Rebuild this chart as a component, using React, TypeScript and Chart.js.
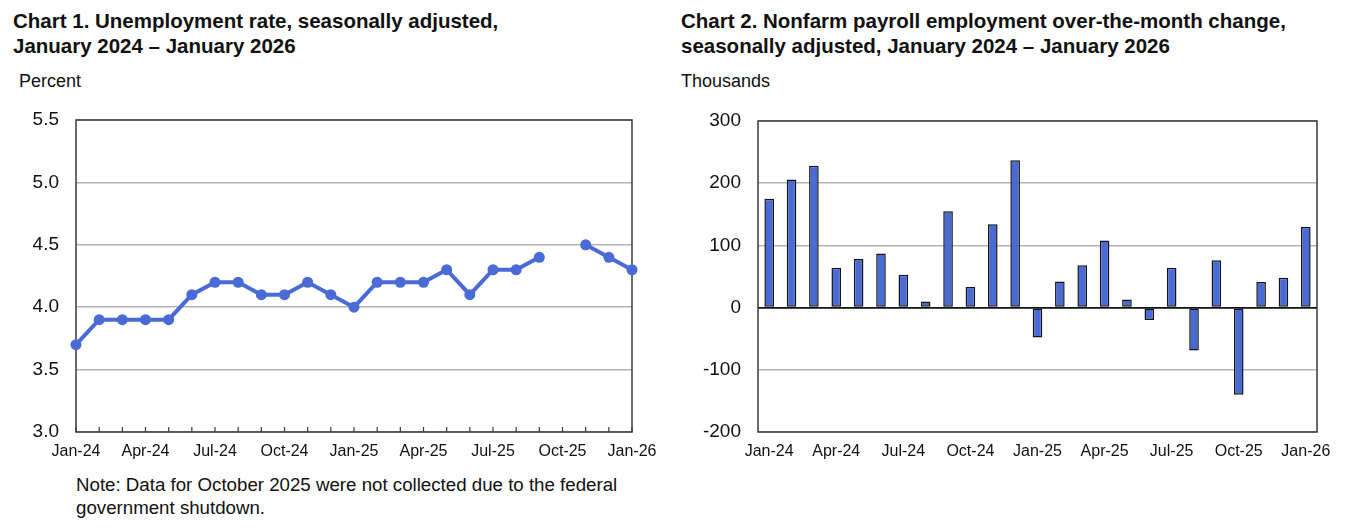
import React, { useEffect, useRef } from "react";
import { Chart, registerables } from "chart.js";

Chart.register(...registerables);

const months = [
  "Jan-24", "Feb-24", "Mar-24", "Apr-24", "May-24", "Jun-24", "Jul-24", "Aug-24", "Sep-24", "Oct-24", "Nov-24", "Dec-24",
  "Jan-25", "Feb-25", "Mar-25", "Apr-25", "May-25", "Jun-25", "Jul-25", "Aug-25", "Sep-25", "Oct-25", "Nov-25", "Dec-25",
  "Jan-26",
];

const unemploymentRate: (number | null)[] = [
  3.7, 3.9, 3.9, 3.9, 3.9, 4.1, 4.2, 4.2, 4.1, 4.1, 4.2, 4.1,
  4.0, 4.2, 4.2, 4.2, 4.3, 4.1, 4.3, 4.3, 4.4, null, 4.5, 4.4,
  4.3,
];

const payrollChange = [
  175, 206, 228, 64, 78, 87, 53, 10, 155, 33, 134, 237,
  -48, 42, 68, 108, 13, -20, 64, -69, 76, -140, 41, 48,
  130,
];

const rateAxis = { min: 3.0, max: 5.5, step: 0.5 };
const payrollAxis = { min: -200, max: 300, step: 100 };

const FONT = "'Liberation Sans', Arial, Helvetica, sans-serif";
const BLUE = "#4a6bd6";
const GRID = "#b4b4b4";
const FRAME = "#3a3a3a";

const framePlugin = {
  id: "frameBox",
  beforeDatasetsDraw(chart: any) {
    const { ctx, chartArea } = chart;
    ctx.save();
    ctx.strokeStyle = FRAME;
    ctx.lineWidth = 1.5;
    ctx.strokeRect(chartArea.left, chartArea.top, chartArea.right - chartArea.left, chartArea.bottom - chartArea.top);
    ctx.restore();
  },
};

const innerTicksPlugin = {
  id: "innerTicks",
  beforeDatasetsDraw(chart: any) {
    const { ctx, chartArea } = chart;
    const xs = chart.scales.x;
    ctx.save();
    ctx.strokeStyle = FRAME;
    ctx.lineWidth = 1.2;
    xs.ticks.forEach((_t: any, i: number) => {
      const x = xs.getPixelForTick(i);
      ctx.beginPath();
      ctx.moveTo(x, chartArea.bottom);
      ctx.lineTo(x, chartArea.bottom - 5);
      ctx.stroke();
    });
    ctx.restore();
  },
};

const labelEveryThird = (_v: any, i: number) => (i % 3 === 0 ? months[i] : "");

function RateChart() {
  const ref = useRef<HTMLCanvasElement | null>(null);
  useEffect(() => {
    if (!ref.current) return;
    const chart = new Chart(ref.current, {
      type: "line",
      data: {
        labels: months,
        datasets: [
          {
            data: unemploymentRate,
            borderColor: BLUE,
            backgroundColor: BLUE,
            borderWidth: 4,
            pointRadius: 5.5,
            pointBorderWidth: 0,
            pointBackgroundColor: BLUE,
            spanGaps: false,
            tension: 0,
            clip: false as any,
          },
        ],
      },
      options: {
        responsive: false,
        animation: false,
        layout: { padding: { left: 0, right: 40, top: 30, bottom: 0 } },
        plugins: { legend: { display: false }, tooltip: { enabled: false }, title: { display: false } },
        scales: {
          x: {
            type: "category",
            offset: false,
            grid: { display: false, drawTicks: false },
            border: { display: false },
            ticks: {
              autoSkip: false,
              maxRotation: 0,
              minRotation: 0,
              padding: 10,
              color: "#111",
              font: { family: FONT, size: 16 },
              callback: labelEveryThird,
            },
            afterFit: (s: any) => { s.height = 30; },
          },
          y: {
            min: rateAxis.min,
            max: rateAxis.max,
            grid: { color: GRID, lineWidth: 1.5, drawTicks: false },
            border: { display: false },
            ticks: {
              stepSize: rateAxis.step,
              padding: 17,
              color: "#111",
              font: { family: FONT, size: 19 },
              callback: (v: any) => Number(v).toFixed(1),
            },
            afterFit: (s: any) => { s.width = 76; },
          },
        },
      },
      plugins: [framePlugin, innerTicksPlugin],
    });
    return () => chart.destroy();
  }, []);
  return <canvas ref={ref} width={672} height={372} style={{ position: "absolute", left: 0, top: 90 }} />;
}

function PayrollChart() {
  const ref = useRef<HTMLCanvasElement | null>(null);
  useEffect(() => {
    if (!ref.current) return;
    const chart = new Chart(ref.current, {
      type: "bar",
      data: {
        labels: months,
        datasets: [
          {
            data: payrollChange,
            backgroundColor: BLUE,
            borderColor: "#151515",
            borderWidth: 1.5,
            borderSkipped: false,
            barPercentage: 0.43,
            categoryPercentage: 1,
          },
        ],
      },
      options: {
        responsive: false,
        animation: false,
        layout: { padding: { left: 0, right: 31, top: 31, bottom: 0 } },
        plugins: { legend: { display: false }, tooltip: { enabled: false }, title: { display: false } },
        scales: {
          x: {
            type: "category",
            offset: true,
            grid: { display: false, drawTicks: false },
            border: { display: false },
            ticks: {
              autoSkip: false,
              maxRotation: 0,
              minRotation: 0,
              padding: 10,
              color: "#111",
              font: { family: FONT, size: 16 },
              callback: labelEveryThird,
            },
            afterFit: (s: any) => { s.height = 30; },
          },
          y: {
            min: payrollAxis.min,
            max: payrollAxis.max,
            grid: {
              color: (c: any) => (c.tick && c.tick.value === 0 ? "#111" : GRID),
              lineWidth: (c: any) => (c.tick && c.tick.value === 0 ? 1.8 : 1.5),
              drawTicks: false,
            },
            border: { display: false },
            ticks: {
              stepSize: payrollAxis.step,
              padding: 17,
              color: "#111",
              font: { family: FONT, size: 19 },
            },
            afterFit: (s: any) => { s.width = 78; },
          },
        },
      },
      plugins: [framePlugin],
    });
    return () => chart.destroy();
  }, []);
  return <canvas ref={ref} width={668} height={372} style={{ position: "absolute", left: 680, top: 90 }} />;
}

const titleStyle: React.CSSProperties = {
  position: "absolute",
  fontFamily: FONT,
  fontWeight: 700,
  fontSize: 20.5,
  lineHeight: "25px",
  color: "#111",
  whiteSpace: "nowrap",
};

const unitStyle: React.CSSProperties = {
  position: "absolute",
  fontFamily: FONT,
  fontSize: 18,
  lineHeight: "20px",
  color: "#111",
  whiteSpace: "nowrap",
};

export default function App() {
  return (
    <div style={{ position: "absolute", left: 0, top: 0, width: 1348, height: 530, background: "#fff", overflow: "hidden" }}>
      <div style={{ ...titleStyle, left: 13, top: 8 }}>
        Chart 1. Unemployment rate, seasonally adjusted,
        <br />
        January 2024 – January 2026
      </div>
      <div style={{ ...titleStyle, left: 681, top: 8 }}>
        Chart 2. Nonfarm payroll employment over-the-month change,
        <br />
        seasonally adjusted, January 2024 – January 2026
      </div>
      <div style={{ ...unitStyle, left: 19, top: 71 }}>Percent</div>
      <div style={{ ...unitStyle, left: 681, top: 71 }}>Thousands</div>
      <RateChart />
      <PayrollChart />
      <div style={{ ...unitStyle, left: 76, top: 473, fontSize: 18.7, lineHeight: "23px" }}>
        Note: Data for October 2025 were not collected due to the federal
        <br />
        government shutdown.
      </div>
    </div>
  );
}
